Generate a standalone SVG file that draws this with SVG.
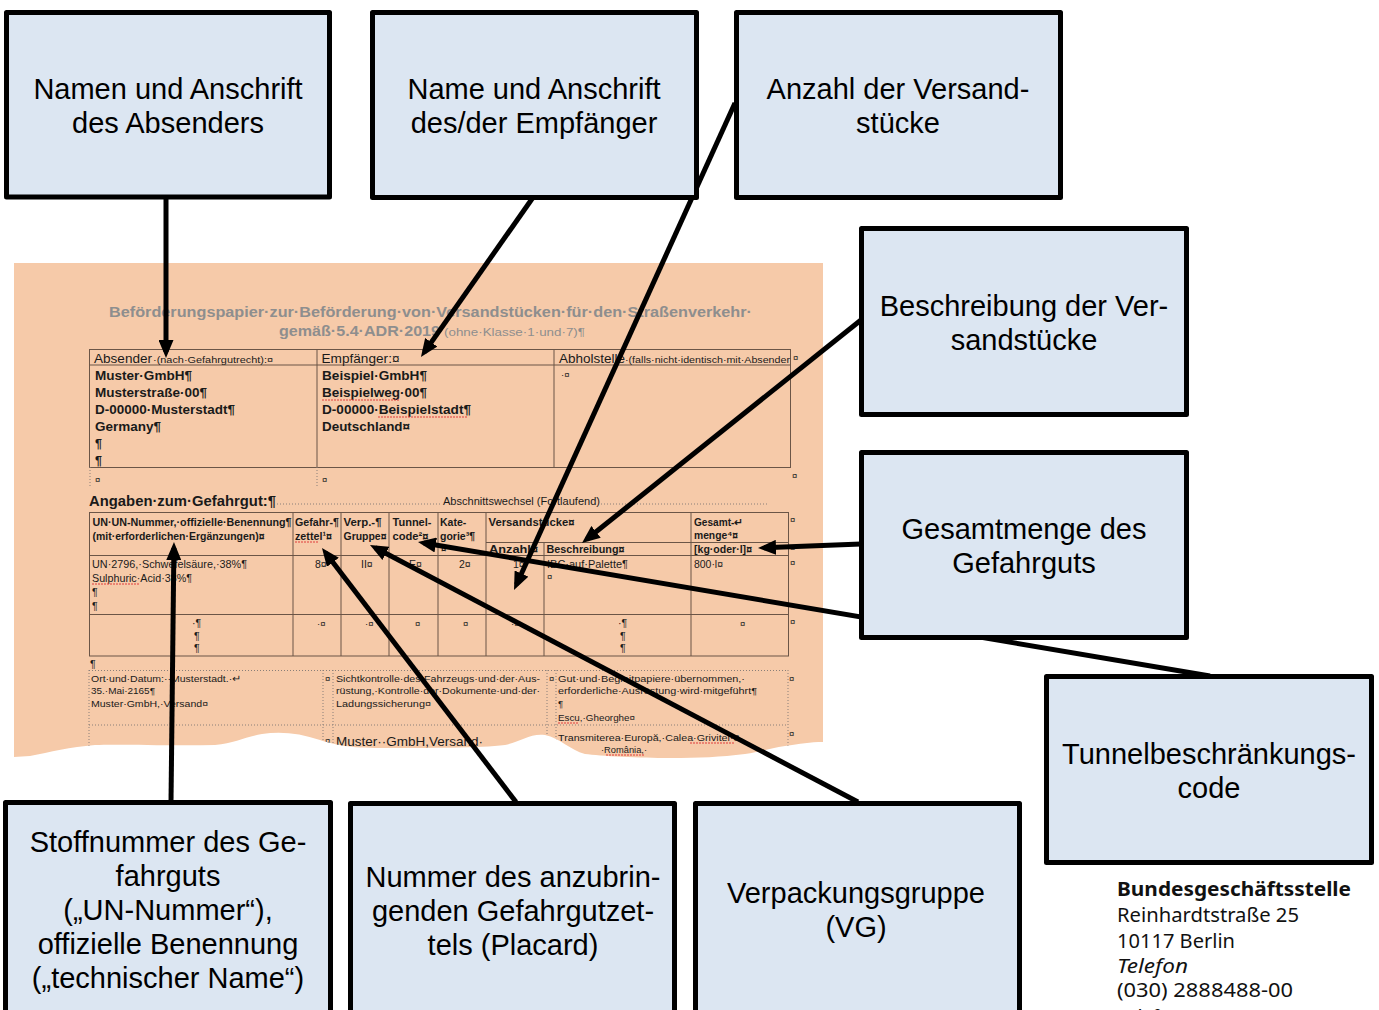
<svg xmlns="http://www.w3.org/2000/svg" width="1379" height="1010" viewBox="0 0 1379 1010">
<style>
.box{fill:#dce6f2;stroke:#000;stroke-width:5;stroke-linejoin:round}
.lbl{font-family:"Liberation Sans",Arial,sans-serif;font-size:29px;text-anchor:middle;fill:#000}
.conn{stroke:#000;stroke-width:5;fill:none;marker-end:url(#ah)}
.d{font-family:"Liberation Sans",Arial,sans-serif;fill:#1a1a1a}
.b{font-weight:bold}
.f13{font-size:13.5px}
.f12{font-size:12.5px}
.f10{font-size:10.5px}
.f9{font-size:9.5px}
.tl{stroke:#6b5547;stroke-width:1;fill:none}
.dot{stroke:#8a7f78;stroke-width:1;stroke-dasharray:1 2;fill:none}
.sq{stroke:#e03c3c;stroke-width:1.2;stroke-dasharray:2 1;fill:none}
.ft{font-family:"Noto Sans","Open Sans",sans-serif;font-size:20px;fill:#111}
</style>
<defs>
<marker id="ah" markerUnits="userSpaceOnUse" viewBox="0 0 18 15" refX="12" refY="7.5" markerWidth="18" markerHeight="15" orient="auto">
<path d="M0,0 L18,7.5 L0,15 z" fill="#000"/>
</marker>
<clipPath id="paper">
<path d="M14,263 H823 V742 C810,742 800,744 785,746 C770,748 760,752 745,754 C720,757 700,758 670,758 C640,758 600,756 585,754 C570,750 560,738 545,735 C530,733 520,742 505,745 C480,748 430,748 380,748 C350,748 335,745 320,740 C300,733 280,731 262,734 C245,737 235,743 215,745 C170,746 120,744 95,745 C70,747 50,752 30,756 L14,757 Z"/>
</clipPath>
</defs>
<rect width="1379" height="1010" fill="#fff"/>

<g id="document" clip-path="url(#paper)">
<rect x="14" y="263" width="809" height="500" fill="#f6caa9"/>
<text class="d b" x="109" y="316.5" font-size="14.5" style="fill:#8e8e8e" textLength="643" lengthAdjust="spacingAndGlyphs">Beförderungspapier·zur·Beförderung·von·Versandstücken·für·den·Straßenverkehr·</text>
<text class="d b" x="279" y="336" font-size="14.5" style="fill:#8e8e8e" textLength="161" lengthAdjust="spacingAndGlyphs">gemäß·5.4·ADR·2019</text>
<text class="d" x="444" y="336" font-size="11.5" style="fill:#8e8e8e" textLength="141" lengthAdjust="spacingAndGlyphs">(ohne·Klasse·1·und·7)¶</text>

<!-- table 1 -->
<rect class="tl" x="89.5" y="349.5" width="701" height="118"/>
<path class="tl" d="M89.5,365 H790.5 M317,349.5 V467.5 M554,349.5 V467.5"/>
<path class="dot" d="M90,467 V487 M317,467 V487"/>
<text class="d f13" x="94" y="362.5" textLength="58" lengthAdjust="spacingAndGlyphs">Absender</text>
<text class="d f9" x="153" y="362.5" textLength="120" lengthAdjust="spacingAndGlyphs">·(nach·Gefahrgutrecht):¤</text>
<text class="d f13" x="321.5" y="362.5" textLength="78" lengthAdjust="spacingAndGlyphs">Empfänger:¤</text>
<text class="d f13" x="559" y="362.5" textLength="66" lengthAdjust="spacingAndGlyphs">Abholstelle</text>
<text class="d f9" x="625" y="362.5" textLength="165" lengthAdjust="spacingAndGlyphs">·(falls·nicht·identisch·mit·Absender</text>
<text class="d f9" x="793" y="361">¤</text>
<text class="d b f12" x="95" y="379.5" textLength="97" lengthAdjust="spacingAndGlyphs">Muster·GmbH¶</text>
<text class="d b f12" x="95" y="397" textLength="112" lengthAdjust="spacingAndGlyphs">Musterstraße·00¶</text>
<text class="d b f12" x="95" y="414" textLength="140" lengthAdjust="spacingAndGlyphs">D-00000·Musterstadt¶</text>
<text class="d b f12" x="95" y="431" textLength="66" lengthAdjust="spacingAndGlyphs">Germany¶</text>
<text class="d b f12" x="95" y="448">¶</text>
<text class="d b f12" x="95" y="465">¶</text>
<text class="d b f12" x="322" y="379.5" textLength="105" lengthAdjust="spacingAndGlyphs">Beispiel·GmbH¶</text>
<text class="d b f12" x="322" y="397" textLength="105" lengthAdjust="spacingAndGlyphs">Beispielweg·00¶</text>
<text class="d b f12" x="322" y="414" textLength="149" lengthAdjust="spacingAndGlyphs">D-00000·Beispielstadt¶</text>
<text class="d b f12" x="322" y="431" textLength="88" lengthAdjust="spacingAndGlyphs">Deutschland¤</text>
<text class="d f9" x="561" y="378">·¤</text>
<text class="d f9" x="95" y="483">¤</text>
<text class="d f9" x="322" y="483">¤</text>
<text class="d f9" x="792" y="479">¤</text>

<text class="d b" x="89" y="506" font-size="14.5" textLength="187" lengthAdjust="spacingAndGlyphs">Angaben·zum·Gefahrgut:¶</text>
<path class="dot" d="M277,504 H441 M601,504 H767"/>
<text class="d f10" x="443" y="504.5" textLength="157" lengthAdjust="spacingAndGlyphs">Abschnittswechsel (Fortlaufend)</text>

<!-- table 2 -->
<rect class="tl" x="89.5" y="512.5" width="699" height="143.5"/>
<path class="tl" d="M89.5,555.5 H788.5 M89.5,614.5 H788.5 M486,542.5 H788.5 M293,512.5 V656 M341,512.5 V656 M389,512.5 V656 M438,512.5 V656 M486,512.5 V656 M544,542.5 V656 M691,512.5 V656"/>
<text class="d b f10" x="92.5" y="525.5" textLength="199" lengthAdjust="spacingAndGlyphs">UN·UN-Nummer,·offizielle·Benennung¶</text>
<text class="d b f10" x="92.5" y="539.5" textLength="172" lengthAdjust="spacingAndGlyphs">(mit·erforderlichen·Ergänzungen)¤</text>
<text class="d b f10" x="295" y="525.5" textLength="44" lengthAdjust="spacingAndGlyphs">Gefahr-¶</text>
<text class="d b f10" x="295" y="539.5" textLength="37" lengthAdjust="spacingAndGlyphs">zettel¹¤</text>
<text class="d b f10" x="343.5" y="525.5" textLength="38" lengthAdjust="spacingAndGlyphs">Verp.-¶</text>
<text class="d b f10" x="343.5" y="539.5" textLength="43" lengthAdjust="spacingAndGlyphs">Gruppe¤</text>
<text class="d b f10" x="392.5" y="525.5" textLength="39" lengthAdjust="spacingAndGlyphs">Tunnel-</text>
<text class="d b f10" x="392.5" y="539.5" textLength="36" lengthAdjust="spacingAndGlyphs">code²¤</text>
<text class="d b f10" x="440" y="525.5">Kate-</text>
<text class="d b f10" x="440" y="539.5">gorie³¶</text>
<text class="d b f9" x="441" y="552">¤</text>
<text class="d b f10" x="488.5" y="526" textLength="86" lengthAdjust="spacingAndGlyphs">Versandstücke¤</text>
<text class="d b f10" x="694" y="526" textLength="49" lengthAdjust="spacingAndGlyphs">Gesamt-↵</text>
<text class="d b f10" x="694" y="538.5" textLength="44" lengthAdjust="spacingAndGlyphs">menge⁴¤</text>
<text class="d b f10" x="489" y="552.5" textLength="49" lengthAdjust="spacingAndGlyphs">Anzahl¤</text>
<text class="d b f10" x="546.5" y="552.5" textLength="78" lengthAdjust="spacingAndGlyphs">Beschreibung¤</text>
<text class="d b f10" x="694" y="552.5" textLength="58" lengthAdjust="spacingAndGlyphs">[kg·oder·l]¤</text>
<text class="d f10" x="92" y="567.5" textLength="155" lengthAdjust="spacingAndGlyphs">UN·2796,·Schwefelsäure,·38%¶</text>
<text class="d f10" x="92" y="581.5" textLength="100" lengthAdjust="spacingAndGlyphs">Sulphuric·Acid·38%¶</text>
<text class="d f10" x="92" y="596">¶</text>
<text class="d f10" x="92" y="610">¶</text>
<text class="d f10" x="315" y="567.5">8¤</text>
<text class="d f10" x="361" y="567.5">II¤</text>
<text class="d f10" x="409" y="567.5">E¤</text>
<text class="d f10" x="459" y="567.5">2¤</text>
<text class="d f10" x="513" y="567.5">1¤</text>
<text class="d f10" x="547" y="567.5" textLength="81" lengthAdjust="spacingAndGlyphs">IBC·auf·Palette¶</text>
<text class="d f9" x="547" y="580">¤</text>
<text class="d f10" x="694" y="567.5" textLength="29" lengthAdjust="spacingAndGlyphs">800·l¤</text>
<text class="d f10" x="192" y="627">·¶</text>
<text class="d f10" x="194" y="639.5">¶</text>
<text class="d f10" x="194" y="652">¶</text>
<text class="d f9" x="317" y="627">·¤</text>
<text class="d f9" x="365" y="627">·¤</text>
<text class="d f9" x="415" y="627">¤</text>
<text class="d f9" x="463" y="627">¤</text>
<text class="d f9" x="511" y="627">·¤</text>
<text class="d f10" x="618" y="627">·¶</text>
<text class="d f10" x="620" y="639.5">¶</text>
<text class="d f10" x="620" y="652">¶</text>
<text class="d f9" x="740" y="627">¤</text>
<text class="d f9" x="790" y="523">¤</text>
<text class="d f9" x="790" y="551">¤</text>
<text class="d f9" x="790" y="566">¤</text>
<text class="d f9" x="790" y="625">¤</text>
<text class="d f10" x="90" y="668">¶</text>

<!-- table 3 -->
<path class="dot" d="M89,670.5 H788 M89,725 H788 M89,670 V765 M323,670 V765 M333,670 V765 M547,670 V765 M556,670 V765 M788,670 V765"/>
<text class="d f9" x="91" y="682" textLength="150" lengthAdjust="spacingAndGlyphs">Ort·und·Datum:··Musterstadt.·↵</text>
<text class="d f9" x="91" y="694" textLength="64" lengthAdjust="spacingAndGlyphs">35.·Mai·2165¶</text>
<text class="d f9" x="91" y="706.5" textLength="117" lengthAdjust="spacingAndGlyphs">Muster·GmbH,·Versand¤</text>
<text class="d f9" x="325" y="682">¤</text>
<text class="d f9" x="336" y="682" textLength="204" lengthAdjust="spacingAndGlyphs">Sichtkontrolle·des·Fahrzeugs·und·der·Aus-</text>
<text class="d f9" x="336" y="694" textLength="204" lengthAdjust="spacingAndGlyphs">rüstung,·Kontrolle·der·Dokumente·und·der·</text>
<text class="d f9" x="336" y="706.5" textLength="95" lengthAdjust="spacingAndGlyphs">Ladungssicherung¤</text>
<text class="d f9" x="549" y="682">¤</text>
<text class="d f9" x="558" y="682" textLength="187" lengthAdjust="spacingAndGlyphs">Gut·und·Begleitpapiere·übernommen,·</text>
<text class="d f9" x="558" y="694" textLength="199" lengthAdjust="spacingAndGlyphs">erforderliche·Ausrüstung·wird·mitgeführt¶</text>
<text class="d f9" x="558" y="707">¶</text>
<text class="d f9" x="558" y="721" textLength="77" lengthAdjust="spacingAndGlyphs">Escu,·Gheorghe¤</text>
<text class="d f9" x="789" y="682">¤</text>
<text class="d f9" x="789" y="737">¤</text>
<text class="d f9" x="325" y="744">¤</text>
<text class="d f13" x="336" y="746" textLength="147" lengthAdjust="spacingAndGlyphs">Muster··GmbH,Versand·</text>
<text class="d f9" x="558" y="741" textLength="185" lengthAdjust="spacingAndGlyphs">Transmiterea·Europă,·Calea·Grivitei·8·</text>
<text class="d f9" x="601" y="753" textLength="46" lengthAdjust="spacingAndGlyphs">·România,·</text>
<path class="sq" d="M322,400 H400 M378,417 H467 M295,542 H318 M92,584 H139 M558,723 H578 M386,749 H480 M690,743 H735 M606,755 H645"/>
</g>

<g id="connectors">
<path class="conn" d="M166,198 L166,352"/>
<path class="conn" d="M534,196 L424.4,352.1"/>
<path class="conn" d="M735,103 L516.5,584.5"/>
<path class="conn" d="M861,320 L586.7,539.3"/>
<path class="conn" d="M861,544 L764,547.8"/>
<path class="conn" d="M1210,676 L423.9,543"/>
<path class="conn" d="M858,802 L375.3,547.8"/>
<path class="conn" d="M516,802 L325.6,552.8"/>
<path class="conn" d="M171,802 L173.9,548"/>
</g>

<g id="node-absender">
<rect class="box" x="6.5" y="12.5" width="323" height="184.5"/>
<text class="lbl" x="168" y="99">Namen und Anschrift</text>
<text class="lbl" x="168" y="133">des Absenders</text>
</g>
<g id="node-empfaenger">
<rect class="box" x="372.5" y="12.5" width="324" height="185"/>
<text class="lbl" x="534" y="99">Name und Anschrift</text>
<text class="lbl" x="534" y="133">des/der Empfänger</text>
</g>
<g id="node-anzahl">
<rect class="box" x="736.5" y="12.5" width="324" height="185"/>
<text class="lbl" x="898" y="99">Anzahl der Versand-</text>
<text class="lbl" x="898" y="133">stücke</text>
</g>
<g id="node-beschreibung">
<rect class="box" x="861.5" y="228.5" width="325" height="186"/>
<text class="lbl" x="1024" y="316">Beschreibung der Ver-</text>
<text class="lbl" x="1024" y="350">sandstücke</text>
</g>
<g id="node-gesamtmenge">
<rect class="box" x="861.5" y="452.5" width="325" height="185"/>
<text class="lbl" x="1024" y="539">Gesamtmenge des</text>
<text class="lbl" x="1024" y="573">Gefahrguts</text>
</g>
<g id="node-tunnel">
<rect class="box" x="1046.5" y="676.5" width="325" height="186"/>
<text class="lbl" x="1209" y="764">Tunnelbeschränkungs-</text>
<text class="lbl" x="1209" y="798">code</text>
</g>
<g id="node-stoffnummer">
<rect class="box" x="5.5" y="802.5" width="325" height="230"/>
<text class="lbl" x="168" y="852">Stoffnummer des Ge-</text>
<text class="lbl" x="168" y="886">fahrguts</text>
<text class="lbl" x="168" y="920">(„UN-Nummer“),</text>
<text class="lbl" x="168" y="954">offizielle Benennung</text>
<text class="lbl" x="168" y="988">(„technischer Name“)</text>
</g>
<g id="node-gefahrzettel">
<rect class="box" x="350.5" y="803.5" width="324" height="230"/>
<text class="lbl" x="513" y="887">Nummer des anzubrin-</text>
<text class="lbl" x="513" y="921">genden Gefahrgutzet-</text>
<text class="lbl" x="513" y="955">tels (Placard)</text>
</g>
<g id="node-verpackungsgruppe">
<rect class="box" x="695.5" y="803.5" width="324" height="230"/>
<text class="lbl" x="856" y="903">Verpackungsgruppe</text>
<text class="lbl" x="856" y="937">(VG)</text>
</g>

<g id="footer">
<text class="ft" x="1117" y="896" font-weight="bold" font-size="21" textLength="234" lengthAdjust="spacingAndGlyphs">Bundesgeschäftsstelle</text>
<text class="ft" x="1117" y="922" textLength="182" lengthAdjust="spacingAndGlyphs">Reinhardtstraße 25</text>
<text class="ft" x="1117" y="947.5" textLength="118" lengthAdjust="spacingAndGlyphs">10117 Berlin</text>
<text class="ft" x="1117" y="972.5" font-style="italic" textLength="71" lengthAdjust="spacingAndGlyphs">Telefon</text>
<text class="ft" x="1117" y="997" textLength="176" lengthAdjust="spacingAndGlyphs">(030) 2888488-00</text>
<text class="ft" x="1117" y="1023.5" font-style="italic">Telefax</text>
</g>
</svg>
